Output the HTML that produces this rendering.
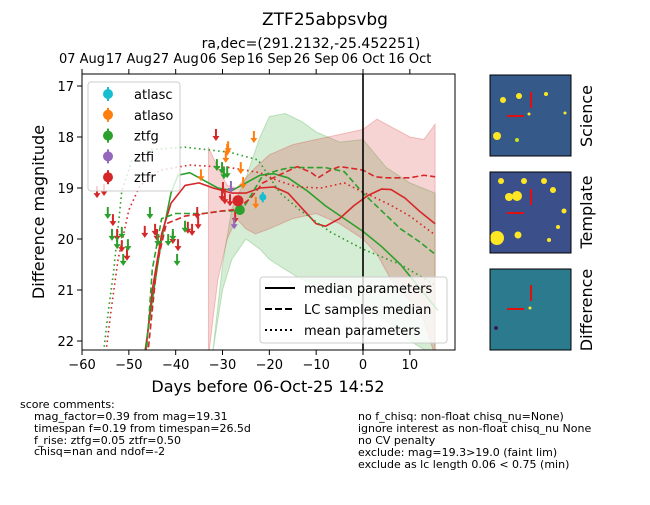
<!DOCTYPE html>
<html><head><meta charset="utf-8"><style>
body{margin:0;background:#fff;}
svg text{font-family:"DejaVu Sans","Liberation Sans",sans-serif;}
</style></head><body>
<svg id="chart" width="650" height="500" viewBox="0 0 650 500" xmlns="http://www.w3.org/2000/svg">
<defs><clipPath id="pc"><rect x="82" y="74" width="373" height="276"/></clipPath></defs>
<text x="325" y="25" font-size="17" text-anchor="middle">ZTF25abpsvbg</text>
<text x="311" y="48" font-size="14" text-anchor="middle">ra,dec=(291.2132,-25.452251)</text>
<g id="bands" clip-path="url(#pc)"></g>
<g id="curves" clip-path="url(#pc)"></g>
<g id="points" clip-path="url(#pc)"></g>
<line x1="363" y1="74" x2="363" y2="350" stroke="#000" stroke-width="1.6"/>
<rect x="82" y="74" width="373" height="276" fill="none" stroke="#000" stroke-width="1"/>
<g id="axes"></g>
<text x="268" y="392" font-size="16" text-anchor="middle">Days before 06-Oct-25 14:52</text>
<text transform="translate(44,212) rotate(-90)" font-size="16" text-anchor="middle">Difference magnitude</text>

<g>
<rect x="88" y="82" width="92" height="109" rx="3" fill="#fff" fill-opacity="0.8" stroke="#ccc"/>
</g>
<g id="leg1"></g>
<g>
<rect x="260" y="277" width="187" height="66" rx="3" fill="#fff" fill-opacity="0.8" stroke="#ccc"/>
<line x1="265" y1="288" x2="295" y2="288" stroke="#000" stroke-width="2"/>
<text x="304" y="293" font-size="13">median parameters</text>
<line x1="265" y1="309" x2="295" y2="309" stroke="#000" stroke-width="2" stroke-dasharray="7,3"/>
<text x="304" y="314" font-size="13">LC samples median</text>
<line x1="265" y1="330" x2="295" y2="330" stroke="#000" stroke-width="2" stroke-dasharray="2,3"/>
<text x="304" y="335" font-size="13">mean parameters</text>
</g>

<g>
<rect x="490" y="75" width="81" height="81" fill="#355a8a"/>
<circle cx="503" cy="100" r="3" fill="#fde725"/><circle cx="519" cy="96" r="3" fill="#fde725"/><circle cx="497" cy="136" r="4" fill="#fde725"/>
<circle cx="546" cy="94" r="2" fill="#fde725"/><circle cx="517" cy="140" r="2" fill="#c8e020"/><circle cx="565" cy="113" r="1.5" fill="#fde725"/><circle cx="529" cy="114" r="1.5" fill="#fde725"/>
<line x1="507" y1="116" x2="524" y2="116" stroke="#e01010" stroke-width="2"/><line x1="531" y1="92" x2="531" y2="108" stroke="#e01010" stroke-width="2"/>
<rect x="490" y="75" width="81" height="81" fill="none" stroke="#000"/>
</g>
<g>
<rect x="490" y="172" width="81" height="81" fill="#3b4f8a"/>
<circle cx="517" cy="196" r="5" fill="#fde725"/><circle cx="509" cy="197" r="4" fill="#fde725"/><circle cx="497" cy="238" r="7" fill="#fde725"/>
<circle cx="518" cy="235" r="3.5" fill="#fde725"/><circle cx="501" cy="181" r="3" fill="#fde725"/><circle cx="553" cy="190" r="3" fill="#fde725"/>
<circle cx="564" cy="211" r="2.5" fill="#fde725"/><circle cx="544" cy="181" r="3" fill="#fde725"/><circle cx="558" cy="227" r="2" fill="#fde725"/><circle cx="524" cy="181" r="3" fill="#fde725"/><circle cx="549" cy="240" r="2" fill="#fde725"/>
<line x1="507" y1="213" x2="524" y2="213" stroke="#e01010" stroke-width="2"/><line x1="531" y1="189" x2="531" y2="205" stroke="#e01010" stroke-width="2"/>
<rect x="490" y="172" width="81" height="81" fill="none" stroke="#000"/>
</g>
<g>
<rect x="490" y="269" width="81" height="81" fill="#2c7a8e"/>
<circle cx="496" cy="328" r="2" fill="#3b1a5a"/><circle cx="530" cy="308" r="1.5" fill="#fde725"/>
<line x1="507" y1="309" x2="524" y2="309" stroke="#e01010" stroke-width="2"/><line x1="531" y1="285" x2="531" y2="301" stroke="#e01010" stroke-width="2"/>
<rect x="490" y="269" width="81" height="81" fill="none" stroke="#000"/>
</g>
<text transform="translate(592,116) rotate(-90)" font-size="16" text-anchor="middle">Science</text>
<text transform="translate(592,212) rotate(-90)" font-size="16" text-anchor="middle">Template</text>
<text transform="translate(592,310) rotate(-90)" font-size="16" text-anchor="middle">Difference</text>

<g font-size="11">
<text x="20" y="408">score comments:</text>
<text x="34" y="420">mag_factor=0.39 from mag=19.31</text>
<text x="34" y="432">timespan f=0.19 from timespan=26.5d</text>
<text x="34" y="444">f_rise: ztfg=0.05 ztfr=0.50</text>
<text x="34" y="455">chisq=nan and ndof=-2</text>
<text x="358" y="420">no f_chisq: non-float chisq_nu=None)</text>
<text x="358" y="432">ignore interest as non-float chisq_nu None</text>
<text x="358" y="444">no CV penalty</text>
<text x="358" y="456">exclude: mag=19.3&gt;19.0 (faint lim)</text>
<text x="358" y="468">exclude as lc length 0.06 &lt; 0.75 (min)</text>
</g>
</svg>
<script>
const xTicks=[-60,-50,-40,-30,-20,-10,0,10];
const yTicks=[17,18,19,20,21,22];
const topTicks=[-60,-50,-40,-30,-20,-10,0,10];
const topLabels=["07 Aug","17 Aug","27 Aug","06 Sep","16 Sep","26 Sep","06 Oct","16 Oct"];

const gSolidD=[-46.7,-45,-43,-41,-39.5,-37,-34,-31,-28,-25,-22,-19,-16,-12,-8,-4,0,4,8,12,16];
const gSolidM=[22.3,21.2,20.0,19.1,18.75,18.7,18.85,19.0,19.05,18.9,18.75,18.72,18.8,19.05,19.35,19.6,19.85,20.15,20.5,20.95,21.4];
const rSolidD=[-46.5,-45,-43,-41,-38,-35,-32,-28,-25,-22,-19,-16,-13,-10,-8,-5,-2,1,4,6,9,12,15.4];
const rSolidM=[22.3,21.0,19.9,19.3,18.95,18.9,19.0,19.1,19.1,19.0,18.98,19.1,19.4,19.7,19.75,19.6,19.35,19.15,19.02,19.03,19.2,19.45,19.7];
const gDashD=[-46.3,-45,-43,-40,-37,-34,-30,-28,-25.6,-23,-21.4,-18,-15.6,-12,-8,-4,0,4,8,12,15.4];
const gDashM=[22.3,20.6,19.6,19.5,19.5,19.5,19.45,19.45,19.4,19.0,18.75,18.65,18.6,18.6,18.6,18.68,19.1,19.45,19.8,20.05,20.3];
const rDashD=[-46,-44,-42,-38,-34,-30,-27,-24,-21.4,-18,-14,-11,-9.6,-7,-5,-2,0,2.6,5,7,10,13,15.4];
const rDashM=[22.3,20.5,19.7,19.55,19.5,19.45,19.42,19.2,18.9,18.75,18.58,18.7,18.8,18.65,18.58,18.62,18.65,18.78,18.8,18.8,18.8,18.75,18.78];
const gDotD=[-55.5,-54.5,-53.2,-51.5,-49.3,-45.5,-38,-28.4,-22.4,-17.7,-13.5,-7,0,8,15.4];
const gDotM=[22.3,21.5,20.6,19.05,18.45,18.25,18.2,18.3,18.45,19.1,19.43,19.86,20.2,20.5,20.9];
const rDotD=[-55,-53.8,-52.3,-50,-47.6,-43.3,-37,-28.4,-22,-18.4,-14,-9,-4,0,5.8,10,15.4];
const rDotM=[22.3,21.4,20.4,19.43,18.95,18.65,18.55,18.6,18.7,18.85,18.98,19.0,18.9,19.08,19.33,19.55,19.92];

const rBandD=[-33,-31,-29,-27,-25,-23,-20,-15,-10,-5,0,3,6,10,13,15.4];
const rBandTop=[18.2,18.6,18.95,19.0,18.8,18.6,18.35,18.15,18.05,17.95,17.85,17.65,17.8,18.0,18.05,17.75];
const rBandBot=[22.3,20.8,20.0,19.6,19.8,19.9,19.8,19.6,19.5,19.7,20.0,20.3,20.8,21.2,21.6,22.3];
const gBandD=[-32.2,-30,-28,-25,-22,-20,-16.6,-13,-10,-5,0,5,10,15.4];
const gBandTop=[22.3,20.5,19.4,18.8,18.0,17.6,17.54,17.7,17.9,18.1,18.05,18.6,18.9,19.1];
const gBandBot=[22.3,21.0,20.4,20.0,20.2,20.4,20.6,20.8,20.9,21.1,21.3,21.6,22.0,22.3];

// upper limits (day, mag)
const rLimD=[-56.8,-55.3,-53.4,-52.5,-51.5,-50.4,-46.6,-44.4,-44.0,-40.6,-39.5,-37.4,-36.5,-35.4,-35.2,-31.4,-30.1,-29.5,-28.4,-29.9,-27.3];
const rLimM=[19.08,19.04,19.63,19.92,20.14,20.31,19.86,19.82,19.92,19.98,20.12,19.78,19.82,19.49,19.69,17.96,19.14,19.2,19.24,19.0,19.57];
const gLimD=[-54.5,-53.6,-52.5,-51.5,-51.2,-50.2,-45.5,-43.8,-41.6,-40.6,-39.7,-38.0,-31.2,-30.1,-29.7,-29.0];
const gLimM=[19.49,19.92,20.08,19.88,20.41,20.12,19.49,20.02,20.02,19.92,20.41,19.76,18.55,18.61,18.71,18.69];
const oLimD=[-34.6,-29.0,-28.8,-29.3,-26.1,-25.6,-23.3,-22.9];
const oLimM=[18.75,18.25,18.2,18.39,18.61,18.9,18.0,19.29];
const iLimD=[-28.2,-27.5];
const iLimM=[18.98,19.69];
// detections (day, mag, err)
const rDetD=[-26.7];const rDetM=[19.25];const rDetE=[0.1];
const gDetD=[-26.3];const gDetM=[19.43];const gDetE=[0.1];
const cDetD=[-21.4];const cDetM=[19.18];const cDetE=[0.1];

const NS="http://www.w3.org/2000/svg";
const X=d=>363+d*4.683;
const Y=m=>86+(m-17)*51;
function mk(tag,attrs,parent){const e=document.createElementNS(NS,tag);for(const k in attrs)e.setAttribute(k,attrs[k]);parent.appendChild(e);return e;}
const axes=document.getElementById('axes');
xTicks.forEach(t=>{
  const l=mk('line',{x1:X(t),x2:X(t),y1:350,y2:355,stroke:'#000'},axes);
  
  
  const tx=mk('text',{x:X(t),y:369,'font-size':13,'text-anchor':'middle'},axes);
  tx.textContent=(t<0?'\u2212'+(-t):t);
  
  
});
topTicks.forEach((t,i)=>{
  const l=mk('line',{x1:X(t),x2:X(t),y1:69,y2:74,stroke:'#000'},axes);
  
  
  const tx=mk('text',{x:X(t),y:63,'font-size':13,'text-anchor':'middle'},axes);
  tx.textContent=topLabels[i];
  
  
});
yTicks.forEach(t=>{
  const l=mk('line',{x1:77,x2:82,y1:Y(t),y2:Y(t),stroke:'#000'},axes);
  
  
  const tx=mk('text',{x:74,y:Y(t)+5,'font-size':13,'text-anchor':'end'},axes);
  tx.textContent=t;
  
  
});
const bands=document.getElementById('bands');
function band(D,T,B,color,name){
  let p=D.map((d,i)=>X(d)+','+Y(T[i])).join(' ');
  p+=' '+D.slice().reverse().map((d,i)=>X(d)+','+Y(B[B.length-1-i])).join(' ');
  const e=mk('polygon',{points:p,fill:color,'fill-opacity':0.2,stroke:color,'stroke-opacity':0.25},bands);
  
  
}
band(gBandD,gBandTop,gBandBot,'#2ca02c','ztfg-uncertainty-band');
band(rBandD,rBandTop,rBandBot,'#d62728','ztfr-uncertainty-band');
const curves=document.getElementById('curves');
function curve(D,M,color,dash,name){
  const e=mk('polyline',{points:D.map((d,i)=>X(d)+','+Y(M[i])).join(' '),fill:'none',stroke:color,'stroke-width':1.6,'stroke-dasharray':dash,'stroke-linejoin':'round'},curves);
  
  
}
curve(gSolidD,gSolidM,'#2ca02c','none','ztfg-median-curve');
curve(rSolidD,rSolidM,'#d62728','none','ztfr-median-curve');
curve(gDashD,gDashM,'#2ca02c','6,3','ztfg-samples-curve');
curve(rDashD,rDashM,'#d62728','6,3','ztfr-samples-curve');
curve(gDotD,gDotM,'#2ca02c','1.6,3.2','ztfg-mean-curve');
curve(rDotD,rDotM,'#d62728','1.6,3.2','ztfr-mean-curve');
const pts=document.getElementById('points');
function lim(D,M,color,name){
  D.forEach((d,i)=>{
    const x=X(d),y=Y(M[i]);
    const g=mk('g',{},pts);
    
    
    mk('line',{x1:x,x2:x,y1:y-6,y2:y+2,stroke:color,'stroke-width':2},g);
    mk('polygon',{points:(x-3.5)+','+(y+1)+' '+(x+3.5)+','+(y+1)+' '+x+','+(y+6),fill:color},g);
  });
}
lim(rLimD,rLimM,'#d62728','ztfr-upper-limit');
lim(gLimD,gLimM,'#2ca02c','ztfg-upper-limit');
lim(oLimD,oLimM,'#ff7f0e','atlaso-upper-limit');
lim(iLimD,iLimM,'#9467bd','ztfi-upper-limit');
function det(D,M,E,color,r,name){
  D.forEach((d,i)=>{
    const x=X(d),y=Y(M[i]);
    const g=mk('g',{},pts);
    
    
    mk('line',{x1:x,x2:x,y1:Y(M[i]-E[i]),y2:Y(M[i]+E[i]),stroke:color,'stroke-width':2},g);
    mk('circle',{cx:x,cy:y,r:r,fill:color},g);
  });
}
det(gDetD,gDetM,gDetE,'#2ca02c',5,'ztfg-detection');
det(rDetD,rDetM,rDetE,'#d62728',5.5,'ztfr-detection');
det(cDetD,cDetM,cDetE,'#17becf',3.5,'atlasc-detection');
const leg=document.getElementById('leg1');
const legNames=['atlasc','atlaso','ztfg','ztfi','ztfr'];
const legColors=['#17becf','#ff7f0e','#2ca02c','#9467bd','#d62728'];
legNames.forEach((n,i)=>{
  const y=94+i*20.8;
  const g=mk('g',{},leg);
  
  
  mk('line',{x1:108,x2:108,y1:y-7,y2:y+7,stroke:legColors[i],'stroke-width':2},g);
  mk('circle',{cx:108,cy:y,r:5,fill:legColors[i]},g);
  const t=mk('text',{x:134,y:y+5,'font-size':13},g);
  t.textContent=n;
});
</script>
</body></html>
